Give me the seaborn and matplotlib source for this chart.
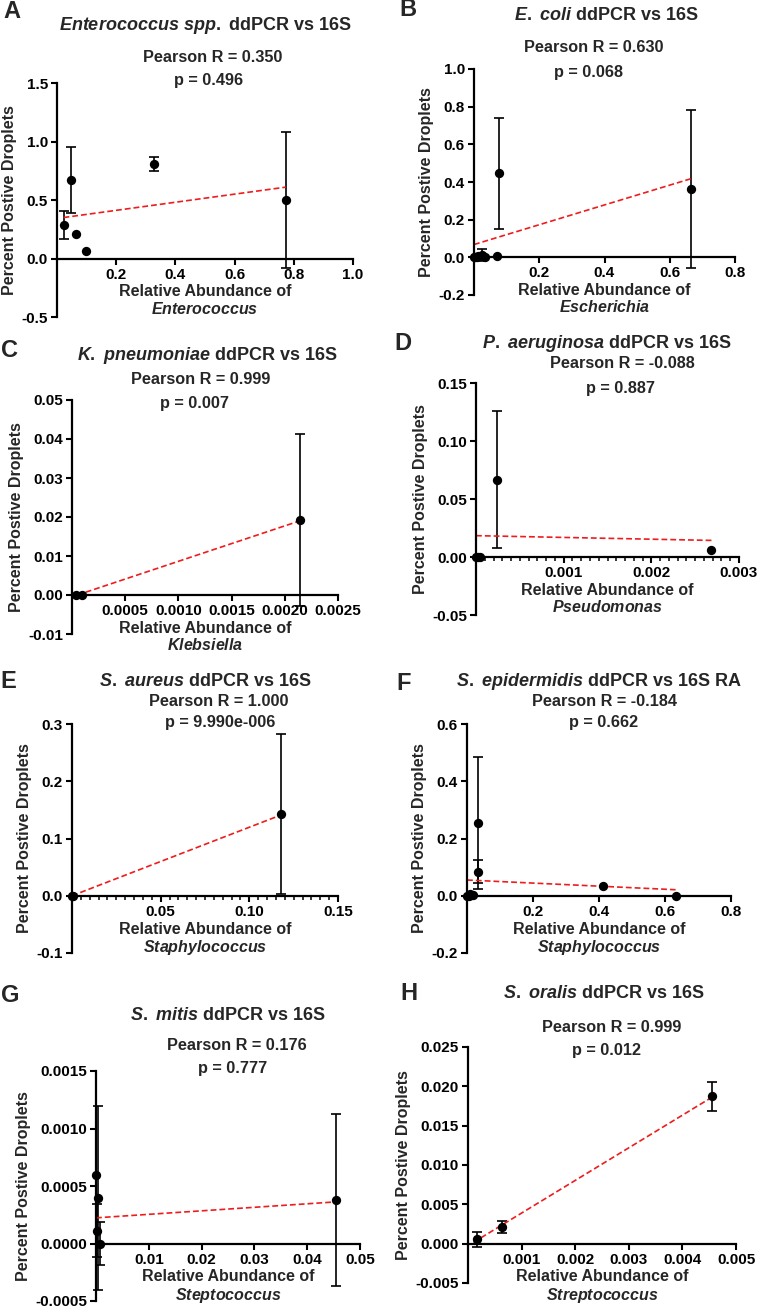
import numpy as np
import pandas as pd
import matplotlib
matplotlib.use("Agg")
import matplotlib.pyplot as plt
import seaborn as sns
from matplotlib.ticker import FormatStrFormatter, MultipleLocator

# A - Enterococcus
a_x = [0.022, 0.048, 0.065, 0.099, 0.328, 0.773]
a_y = [0.286, 0.671, 0.206, 0.066, 0.809, 0.500]
a_err = [0.117, 0.283, 0.0, 0.0, 0.057, 0.577]
a_fit_x = [0.022, 0.773]
a_fit_y = [0.35, 0.61]

# B - E. coli
b_x = [0.0, 0.004, 0.008, 0.012, 0.023, 0.033, 0.069, 0.077, 0.664]
b_y = [0.0, 0.0, 0.0, 0.005, 0.012, 0.0, 0.009, 0.447, 0.362]
b_err = [0.0, 0.0, 0.0, 0.0, 0.031, 0.0, 0.0, 0.295, 0.420]
b_fit_x = [0.0, 0.664]
b_fit_y = [0.068, 0.417]

# C - K. pneumoniae
c_x = [0.00004, 0.00009, 0.00214]
c_y = [0.0, 0.0, 0.0192]
c_err = [0.0, 0.0, 0.0221]
c_fit_x = [0.00005, 0.00214]
c_fit_y = [0.0, 0.0190]

# D - P. aeruginosa
d_x = [0.0, 0.00002, 0.00005, 0.000235, 0.002685]
d_y = [0.0, 0.0, 0.0, 0.0667, 0.0063]
d_err = [0.0, 0.0, 0.0, 0.0592, 0.0]
d_fit_x = [0.0, 0.00269]
d_fit_y = [0.0184, 0.0143]

# E - S. aureus
e_x = [0.0, 0.0005, 0.1178]
e_y = [0.0, 0.0, 0.1424]
e_err = [0.0, 0.0, 0.140]
e_fit_x = [0.0, 0.1178]
e_fit_y = [0.0, 0.141]

# F - S. epidermidis
f_x = [0.0, 0.005, 0.010, 0.017, 0.033, 0.034, 0.4115, 0.632]
f_y = [0.0, 0.0, 0.005, 0.002, 0.254, 0.084, 0.035, 0.0]
f_err = [0.0, 0.0, 0.0, 0.0, 0.230, 0.040, 0.0, 0.0]
f_fit_x = [0.0, 0.632]
f_fit_y = [0.055, 0.021]

# G - S. mitis
g_x = [0.00005, 0.0004, 0.0001, 0.0008, 0.04545]
g_y = [0.0006, 0.0004, 0.00011, 0.0, 0.000377]
g_err = [0.0, 0.0008, 0.00023, 0.00019, 0.00075]
g_fit_x = [0.0, 0.04545]
g_fit_y = [0.000223, 0.000362]

# H - S. oralis
h_x = [0.000174, 0.000634, 0.004547]
h_y = [0.00055, 0.00208, 0.01872]
h_err = [0.00098, 0.00076, 0.00187]
h_fit_x = [0.0001, 0.004547]
h_fit_y = [0.00016, 0.0186]

W, H = 757, 1313

panels = [
    dict(letter="A", species=r"Enterococcus\ spp.", suffix=" ddPCR vs 16S", genus="Enterococcus",
         r="0.350", p="0.496", x=a_x, y=a_y, err=a_err, fx=a_fit_x, fy=a_fit_y,
         box=(57, 353, 83, 317), xlim=(0, 1.0), ylim=(-0.5, 1.5),
         xticks=[0.2, 0.4, 0.6, 0.8, 1.0], ystep=0.5, xfmt="%.1f", yfmt="%.1f", minor=None,
         pos=[(12, 11), (205, 25), (213, 58), (209, 81)]),
    dict(letter="B", species=r"E.\ coli", suffix=" ddPCR vs 16S", genus="Escherichia",
         r="0.630", p="0.068", x=b_x, y=b_y, err=b_err, fx=b_fit_x, fy=b_fit_y,
         box=(474, 735, 69, 295), xlim=(0, 0.8), ylim=(-0.2, 1.0),
         xticks=[0.2, 0.4, 0.6, 0.8], ystep=0.2, xfmt="%.1f", yfmt="%.1f", minor=None,
         pos=[(408, 10), (606, 15), (594, 48), (589, 73)]),
    dict(letter="C", species=r"K.\ pneumoniae", suffix=" ddPCR vs 16S", genus="Klebsiella",
         r="0.999", p="0.007", x=c_x, y=c_y, err=c_err, fx=c_fit_x, fy=c_fit_y,
         box=(72, 338, 400, 634), xlim=(0, 0.0025), ylim=(-0.01, 0.05),
         xticks=[0.0005, 0.0010, 0.0015, 0.0020, 0.0025], ystep=0.01, xfmt="%.4f", yfmt="%.2f", minor=None,
         pos=[(9, 350), (207, 355), (201, 380), (195, 403)]),
    dict(letter="D", species=r"P.\ aeruginosa", suffix=" ddPCR vs 16S", genus="Pseudomonas",
         r="-0.088", p="0.887", x=d_x, y=d_y, err=d_err, fx=d_fit_x, fy=d_fit_y,
         box=(476, 739, 383, 615), xlim=(0, 0.003), ylim=(-0.05, 0.15),
         xticks=[0.001, 0.002, 0.003], ystep=0.05, xfmt="%.3f", yfmt="%.2f", minor=0.0001,
         pos=[(403, 344), (607, 343), (622, 363), (620, 388)]),
    dict(letter="E", species=r"S.\ aureus", suffix=" ddPCR vs 16S", genus="Staphylococcus",
         r="1.000", p="9.990e-006", x=e_x, y=e_y, err=e_err, fx=e_fit_x, fy=e_fit_y,
         box=(72, 338, 724, 953), xlim=(0, 0.15), ylim=(-0.1, 0.3),
         xticks=[0.05, 0.10, 0.15], ystep=0.1, xfmt="%.2f", yfmt="%.1f", minor=0.005,
         pos=[(8, 682), (205, 682), (219, 702), (220, 723)]),
    dict(letter="F", species=r"S.\ epidermidis", suffix=" ddPCR vs 16S RA", genus="Staphylococcus",
         r="-0.184", p="0.662", x=f_x, y=f_y, err=f_err, fx=f_fit_x, fy=f_fit_y,
         box=(467, 731, 724, 953), xlim=(0, 0.8), ylim=(-0.2, 0.6),
         xticks=[0.2, 0.4, 0.6, 0.8], ystep=0.2, xfmt="%.1f", yfmt="%.1f", minor=None,
         pos=[(404, 683), (599, 682), (604, 702), (604, 723)]),
    dict(letter="G", species=r"S.\ mitis", suffix=" ddPCR vs 16S", genus="Steptococcus",
         r="0.176", p="0.777", x=g_x, y=g_y, err=g_err, fx=g_fit_x, fy=g_fit_y,
         box=(96, 360, 1071, 1301), xlim=(0, 0.05), ylim=(-0.0005, 0.0015),
         xticks=[0.01, 0.02, 0.03, 0.04, 0.05], ystep=0.0005, xfmt="%.2f", yfmt="%.4f", minor=None,
         pos=[(10, 995), (228, 1015), (237, 1045), (233, 1068)]),
    dict(letter="H", species=r"S.\ oralis", suffix=" ddPCR vs 16S", genus="Streptococcus",
         r="0.999", p="0.012", x=h_x, y=h_y, err=h_err, fx=h_fit_x, fy=h_fit_y,
         box=(468, 736, 1047, 1283), xlim=(0, 0.005), ylim=(-0.005, 0.025),
         xticks=[0.001, 0.002, 0.003, 0.004, 0.005], ystep=0.005, xfmt="%.3f", yfmt="%.3f", minor=None,
         pos=[(409, 994), (604, 993), (612, 1027), (607, 1050)]),
]

sns.set_theme(style="ticks")
plt.rcParams["font.family"] = ["Liberation Sans", "DejaVu Sans"]
plt.rcParams["font.weight"] = "bold"
plt.rcParams["axes.labelweight"] = "bold"
plt.rcParams["axes.unicode_minus"] = False
plt.rcParams["mathtext.fontset"] = "custom"
plt.rcParams["mathtext.rm"] = "Liberation Sans:bold"
plt.rcParams["mathtext.bf"] = "Liberation Sans:bold"
plt.rcParams["mathtext.it"] = "Liberation Sans:italic:bold"


def fig_xy(px, py):
    return px / W, 1 - py / H


fig = plt.figure(figsize=(W / 100, H / 100), dpi=100)

for panel in panels:
    left, right, top, bottom = panel["box"]
    ax = fig.add_axes([left / W, 1 - bottom / H, (right - left) / W, (bottom - top) / H])
    ax.patch.set_visible(False)

    errs = np.array(panel["err"])
    has_err = errs > 0
    ax.errorbar(np.array(panel["x"])[has_err], np.array(panel["y"])[has_err],
                yerr=errs[has_err], fmt="none", ecolor="black",
                elinewidth=1.2, capsize=3.8, capthick=1.2, zorder=2, clip_on=False)
    sns.lineplot(x=panel["fx"], y=panel["fy"], color="#ee1c1c", linestyle=(0, (3.5, 1.8)),
                 linewidth=1.2, sort=False, ax=ax, zorder=2.5)
    points = pd.DataFrame({"x": panel["x"], "y": panel["y"]})
    sns.scatterplot(data=points, x="x", y="y", color="black", edgecolor="black",
                    s=45, linewidth=0, zorder=3, clip_on=False, ax=ax)

    ax.set_xlim(*panel["xlim"])
    ax.set_xticks(panel["xticks"])
    ax.yaxis.set_major_locator(MultipleLocator(panel["ystep"]))
    ax.set_ylim(*panel["ylim"])
    ax.xaxis.set_major_formatter(FormatStrFormatter(panel["xfmt"]))
    ax.yaxis.set_major_formatter(FormatStrFormatter(panel["yfmt"]))
    if panel["minor"]:
        ax.xaxis.set_minor_locator(MultipleLocator(panel["minor"]))
        ax.tick_params(axis="x", which="minor", length=3, width=1.3, direction="out")

    ax.spines["top"].set_visible(False)
    ax.spines["right"].set_visible(False)
    ax.spines["bottom"].set_position(("data", 0))
    for side in ["left", "bottom"]:
        ax.spines[side].set_linewidth(1.6)
        ax.spines[side].set_color("black")
    ax.tick_params(which="major", length=4.5, width=1.5, direction="out",
                   labelsize=11, pad=2, color="black", labelcolor="black")
    for lbl in ax.get_xticklabels() + ax.get_yticklabels():
        lbl.set_fontweight("bold")

    ax.set_xlabel("Relative Abundance of\n" + r"$\it{" + panel["genus"] + "}$",
                  fontsize=11.5, labelpad=2, linespacing=1.1)
    ax.set_ylabel("Percent Postive Droplets", fontsize=11.5, labelpad=3)

    lx, ly = fig_xy(*panel["pos"][0])
    fig.text(lx, ly, panel["letter"], fontsize=17, fontweight="bold", ha="center", va="center")
    tx, ty = fig_xy(*panel["pos"][1])
    fig.text(tx, ty, r"$\it{" + panel["species"] + "}$" + panel["suffix"],
             fontsize=13, fontweight="bold", ha="center", va="center")
    rx, ry = fig_xy(*panel["pos"][2])
    fig.text(rx, ry, f"Pearson R = {panel['r']}", fontsize=11.7, fontweight="bold",
             ha="center", va="center")
    qx, qy = fig_xy(*panel["pos"][3])
    fig.text(qx, qy, f"p = {panel['p']}", fontsize=11.7, fontweight="bold",
             ha="center", va="center")

fig.savefig("out.png", dpi=100)
